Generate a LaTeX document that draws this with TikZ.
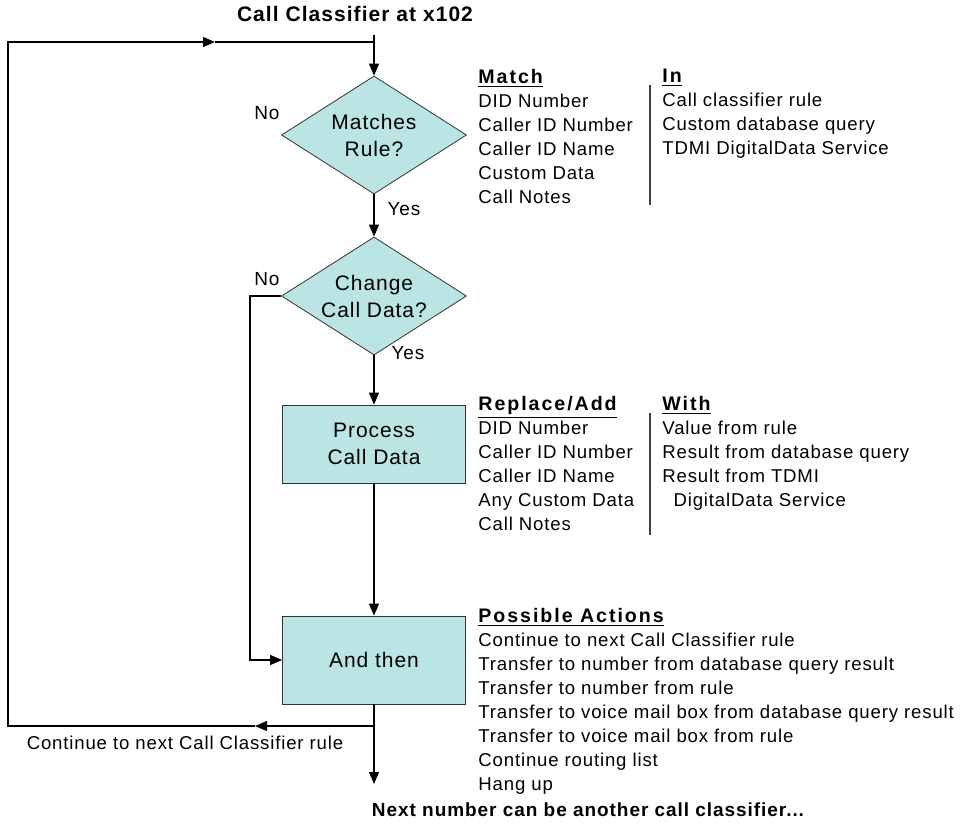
\documentclass[tikz,border=0pt]{standalone}
\usepackage{fontspec}
\setmainfont{Liberation Sans}[LetterSpace=4.5]
\newfontfamily\headfont{Liberation Sans}[LetterSpace=10]
\newfontfamily\titlefont{Liberation Sans}[LetterSpace=5]
\usetikzlibrary{positioning,arrows.meta,shapes.geometric}
\definecolor{boxcyan}{RGB}{187,229,228}
\definecolor{edgegray}{RGB}{50,50,50}
\newcommand{\colhead}[1]{{\headfont\fontsize{9.8}{12}\selectfont\bfseries\underline{#1}}}
\tikzset{
    every node/.style={font=\fontsize{9.3}{12}\selectfont},
    decision/.style={diamond,draw=edgegray,fill=boxcyan,minimum width=92.5pt,minimum height=59pt,inner sep=0pt,aspect=1.6,align=center,font=\fontsize{10.5}{13.5}\selectfont},
    procbox/.style={rectangle,draw=edgegray,fill=boxcyan,minimum width=91.5pt,align=center,font=\fontsize{10.5}{13.5}\selectfont},
    yesno/.style={font=\fontsize{9.5}{11}\selectfont},
    listcol/.style={anchor=north west,inner sep=0pt,align=left},
    boldline/.style={inner sep=0pt,font=\titlefont\fontsize{10.5}{12}\selectfont\bfseries},
    flow/.style={-{Triangle[length=6pt,width=5pt]},line width=0.6pt},
    plain/.style={line width=0.6pt},
    divider/.style={line width=0.6pt,draw=black!75}
}
\begin{document}
\begin{tikzpicture}[x=0.5pt,y=-0.5pt]
    \useasboundingbox (0,0) rectangle (964,825);
    % main flow
    \node[boldline] (title) at (355,14) {Call Classifier at x102};
    \coordinate (top) at (374,35);
    \node[decision] (match) at (374,135) {Matches\\Rule?};
    \node[decision] (chg) at (374,296) {Change\\Call Data?};
    \node[procbox,minimum height=39pt] (proc) at (374,444) {Process\\Call Data};
    \node[procbox,minimum height=44pt] (then) at (374,660) {And then};
    \node[yesno] (no1) at (267,113) {No};
    \node[yesno] (yes1) at (404,209) {Yes};
    \node[yesno] (no2) at (267,279) {No};
    \node[yesno] (yes2) at (408,353) {Yes};
    \coordinate (nocol) at (250,0);
    \coordinate (jn) at (374,726);
    \coordinate (la) at (255,726);
    \coordinate (lb) at (8,726);
    \coordinate (lt) at (8,42);
    \coordinate (ta) at (215,42);
    \coordinate (tj) at (374,42);
    \coordinate (bot) at (374,784);
    \draw[flow] (top) -- (match);
    \draw[flow] (match) -- (chg);
    \draw[flow] (chg) -- (proc);
    \draw[flow] (proc) -- (then);
    \draw[flow] (chg.west) -- (chg.west -| nocol) |- (then.west);
    \draw[plain] (then) -- (jn);
    \draw[flow] (jn) -- (la);
    \draw[flow] (la) -- (lb) -- (lt) -- (ta);
    \draw[plain] (ta) -- (tj);
    \draw[flow] (jn) -- (bot);
    \node (contlbl) at (185,743) {Continue to next Call Classifier rule};
    \node[boldline,font=\titlefont\fontsize{9.5}{12}\selectfont\bfseries] (nextlbl) at (588,810) {Next number can be another call classifier...};
    % side lists
    \node[listcol] (matchcol) at (478,69) {\colhead{Match}\\DID Number\\Caller ID Number\\Caller ID Name\\Custom Data\\Call Notes};
    \node[listcol] (incol) at (662,69) {\colhead{In}\\Call classifier rule\\Custom database query\\TDMI DigitalData Service};
    \draw[divider] (650,85) -- (650,205);
    \node[listcol] (repcol) at (478,396) {\colhead{Replace/Add}\\DID Number\\Caller ID Number\\Caller ID Name\\Any Custom Data\\Call Notes};
    \node[listcol] (withcol) at (662,396) {\colhead{With}\\Value from rule\\Result from database query\\Result from TDMI\\\hspace*{0.6em}DigitalData Service};
    \draw[divider] (650,413) -- (650,535);
    \node[listcol] (actcol) at (478,608) {\colhead{Possible Actions}\\Continue to next Call Classifier rule\\Transfer to number from database query result\\Transfer to number from rule\\Transfer to voice mail box from database query result\\Transfer to voice mail box from rule\\Continue routing list\\Hang up};
\end{tikzpicture}
\end{document}
